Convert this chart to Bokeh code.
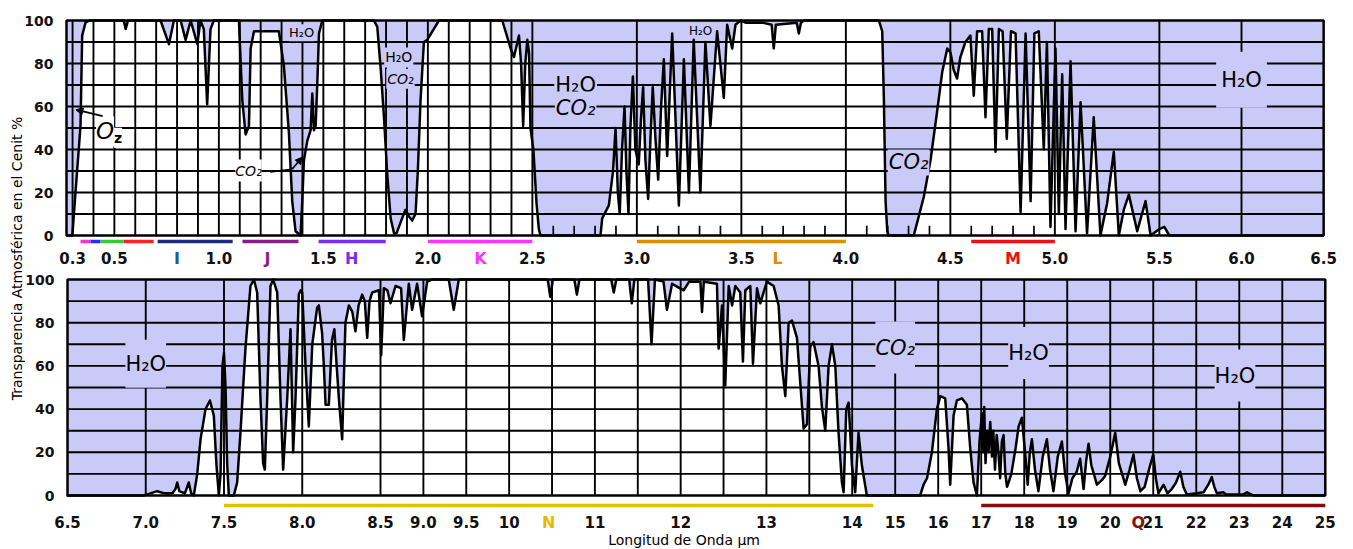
import numpy as np
from bokeh.plotting import figure
from bokeh.models import FixedTicker, Label, Arrow, NormalHead, Range1d
from bokeh.layouts import row, column
from bokeh.embed import file_html
from bokeh.resources import INLINE

# ---------------- data ----------------
top_wavelength = [
    0.271, 0.299, 0.314, 0.338, 0.346, 0.362, 0.380, 0.545, 0.554, 0.565,
    0.721, 0.761, 0.785, 0.817, 0.841, 0.865, 0.897, 0.912, 0.928, 0.944,
    0.960, 0.976, 1.096, 1.112, 1.128, 1.144, 1.152, 1.168, 1.200, 1.287,
    1.311, 1.335, 1.351, 1.367, 1.391, 1.399, 1.407, 1.423, 1.439, 1.447,
    1.455, 1.463, 1.471, 1.479, 1.495, 1.742, 1.758, 1.774, 1.790, 1.806,
    1.822, 1.838, 1.850, 1.869, 1.893, 1.909, 1.925, 1.941, 1.952, 1.965,
    1.981, 1.997, 2.053, 2.356, 2.396, 2.412, 2.424, 2.436, 2.446, 2.456,
    2.466, 2.476, 2.484, 2.491, 2.505, 2.520, 2.531, 2.539, 2.826, 2.834,
    2.866, 2.886, 2.898, 2.909, 2.918, 2.929, 2.941, 2.950, 2.960, 2.969,
    2.981, 2.993, 3.009, 3.020, 3.030, 3.041, 3.054, 3.065, 3.076, 3.089,
    3.102, 3.116, 3.129, 3.145, 3.169, 3.201, 3.225, 3.249, 3.272, 3.304,
    3.328, 3.352, 3.384, 3.416, 3.432, 3.456, 3.472, 3.496, 3.520, 3.600,
    3.645, 3.655, 3.665, 3.765, 3.775, 3.785, 3.800, 4.158, 4.174, 4.182,
    4.190, 4.198, 4.205, 4.325, 4.349, 4.373, 4.405, 4.437, 4.461, 4.485,
    4.501, 4.516, 4.532, 4.548, 4.572, 4.596, 4.612, 4.628, 4.652, 4.668,
    4.684, 4.700, 4.716, 4.732, 4.750, 4.770, 4.790, 4.812, 4.836, 4.860,
    4.884, 4.902, 4.923, 4.947, 4.962, 4.979, 5.003, 5.019, 5.035, 5.051,
    5.075, 5.099, 5.123, 5.154, 5.186, 5.218, 5.250, 5.282, 5.306, 5.330,
    5.354, 5.394, 5.434, 5.458, 5.500, 5.530, 5.561, 6.500,
]
top_transmission = [
    0, 0, 20, 51, 93, 99, 100, 100, 96, 100,
    100, 89, 100, 100, 91, 100, 89, 100, 96, 61,
    96, 100, 100, 63, 47, 51, 87, 95, 95, 95,
    79, 48, 16, 2, 0, 16, 35, 44, 49, 66,
    49, 51, 71, 94, 100, 100, 97, 78, 55, 28,
    8, 1, 1, 6, 12, 9, 7, 10, 30, 63,
    90, 91, 100, 100, 87, 83, 88, 93, 80, 51,
    80, 91, 85, 50, 40, 15, 3, 0, 0, 8,
    14, 30, 50, 20, 10, 40, 60, 30, 10, 50,
    74, 40, 33, 55, 69, 35, 17, 45, 69, 45,
    26, 60, 82, 37, 94, 14, 82, 20, 91, 20,
    90, 51, 95, 64, 98, 87, 98, 100, 99, 99,
    98, 87, 98, 99, 94, 99, 100, 100, 95, 63,
    16, 2, 0, 0, 9, 18, 35, 58, 76, 87,
    85, 77, 73, 83, 90, 93, 65, 95, 95, 55,
    96, 96, 39, 96, 95, 45, 95, 94, 11, 94,
    16, 94, 95, 40, 90, 4, 87, 10, 75, 3,
    81, 2, 62, 1, 55, 0, 15, 39, 0, 12,
    19, 2, 16, 0, 3, 4, 0, 0,
]

bottom_wavelength = [
    6.494, 6.988, 7.030, 7.073, 7.120, 7.170, 7.190, 7.201, 7.215, 7.250,
    7.275, 7.290, 7.307, 7.329, 7.350, 7.382, 7.410, 7.435, 7.452, 7.467,
    7.478, 7.490, 7.500, 7.510, 7.520, 7.531, 7.563, 7.584, 7.605, 7.637,
    7.669, 7.691, 7.712, 7.733, 7.750, 7.761, 7.776, 7.797, 7.814, 7.840,
    7.861, 7.878, 7.904, 7.925, 7.942, 7.957, 7.978, 7.990, 8.000, 8.021,
    8.042, 8.064, 8.095, 8.106, 8.127, 8.138, 8.149, 8.170, 8.190, 8.205,
    8.220, 8.234, 8.255, 8.276, 8.298, 8.320, 8.340, 8.360, 8.383, 8.400,
    8.415, 8.430, 8.447, 8.490, 8.508, 8.539, 8.580, 8.616, 8.675, 8.740,
    8.772, 8.830, 8.869, 8.927, 8.985, 9.044, 9.100, 9.296, 9.354, 9.413,
    10.45, 10.48, 10.51, 10.76, 10.79, 10.82, 11.19, 11.22, 11.25, 11.40,
    11.43, 11.46, 11.62, 11.66, 11.70, 11.80, 11.84, 11.90, 12.035, 12.10,
    12.23, 12.249, 12.27, 12.423, 12.443, 12.482, 12.52, 12.56, 12.60, 12.637,
    12.695, 12.726, 12.754, 12.812, 12.843, 12.89, 12.928, 12.967, 13.006, 13.084,
    13.142, 13.181, 13.22, 13.259, 13.298, 13.356, 13.395, 13.434, 13.473, 13.511,
    13.55, 13.608, 13.647, 13.686, 13.725, 13.764, 13.803, 13.841, 13.88, 13.90,
    13.931, 13.958, 13.997, 14.07, 14.147, 14.225, 14.341, 15.58, 15.66, 15.74,
    15.853, 15.969, 16.047, 16.163, 16.24, 16.279, 16.357, 16.434, 16.55, 16.667,
    16.744, 16.822, 16.90, 16.96, 17.016, 17.04, 17.07, 17.10, 17.14, 17.17,
    17.21, 17.25, 17.28, 17.32, 17.36, 17.40, 17.44, 17.48, 17.52, 17.56,
    17.60, 17.635, 17.70, 17.80, 17.87, 17.945, 18.02, 18.08, 18.13, 18.178,
    18.25, 18.33, 18.43, 18.527, 18.60, 18.68, 18.78, 18.876, 18.95, 19.03,
    19.12, 19.22, 19.30, 19.38, 19.44, 19.496, 19.56, 19.69, 19.80, 19.88,
    20.00, 20.116, 20.20, 20.35, 20.45, 20.54, 20.62, 20.70, 20.80, 20.90,
    21.00, 21.06, 21.12, 21.24, 21.33, 21.43, 21.53, 21.628, 21.70, 21.78,
    22.00, 22.17, 22.28, 22.36, 22.42, 22.48, 22.63, 22.70, 23.10, 23.18,
    23.33, 25.0,
]
bottom_transmission = [
    0, 0, 1, 2, 1, 1, 3, 6, 2, 1,
    6, 1, 0, 10, 26, 40, 44, 37, 14, 0,
    10, 60, 66, 50, 15, 0, 0, 6, 29, 68,
    97, 100, 94, 45, 15, 12, 45, 97, 100, 94,
    45, 12, 45, 77, 20, 45, 93, 95, 94, 60,
    32, 70, 87, 88, 75, 60, 42, 42, 72, 77,
    60, 45, 26, 80, 88, 85, 76, 88, 93, 90,
    73, 90, 94, 95, 65, 96, 95, 89, 97, 96,
    72, 98, 86, 98, 83, 99, 100, 100, 86, 100,
    100, 92, 100, 100, 93, 100, 100, 94, 100, 100,
    89, 100, 100, 70, 100, 99, 86, 98, 95, 99,
    99, 85, 99, 98, 68, 88, 51, 97, 88, 97,
    94, 62, 95, 97, 61, 96, 89, 94, 99, 97,
    88, 60, 46, 80, 81, 73, 52, 31, 33, 69,
    71, 60, 41, 30, 60, 70, 60, 29, 6, 1.5,
    40, 43, 14, 1.5, 29, 14, 0, 0, 5, 8,
    20, 40, 46, 45, 22, 5, 37, 44, 45, 42,
    22, 6, 0, 25, 38, 20, 41, 15, 30, 20,
    34, 18, 30, 12, 28, 20, 8, 25, 28, 10,
    4, 6, 10, 22, 32, 36, 20, 5, 20, 26,
    12, 2, 18, 26, 12, 2, 18, 25, 10, 1,
    8, 11, 17, 3, 16, 24, 14, 5, 7, 9,
    18, 29, 15, 5, 12, 19, 8, 2, 4, 12,
    19, 8, 1, 5, 1, 3, 6, 11, 4, 0.5,
    1, 1.5, 5, 8.5, 4, 1, 1.5, 0.5, 0.5, 1.5,
    0, 0,
]

top_ticks = [0.3, 0.5, 1.0, 1.5, 2.0, 2.5, 3.0, 3.5, 4.0, 4.5, 5.0, 5.5, 6.0, 6.5]
top_tick_labels = ["0.3", "0.5", "1.0", "1.5", "2.0", "2.5", "3.0", "3.5",
                   "4.0", "4.5", "5.0", "5.5", "6.0", "6.5"]
bottom_ticks = [6.5, 7.0, 7.5, 8.0, 8.5, 9.0, 9.5, 10, 11, 12, 13, 14, 15, 16,
                17, 18, 19, 20, 21, 22, 23, 24, 25]
bottom_tick_labels = ["6.5", "7.0", "7.5", "8.0", "8.5", "9.0", "9.5", "10", "11",
                      "12", "13", "14", "15", "16", "17", "18", "19", "20", "21",
                      "22", "23", "24", "25"]
y_ticks = [0, 20, 40, 60, 80, 100]

top_band_start = [0.338, 0.386, 0.434, 0.544, 0.707, 1.113, 1.477, 2.0, 3.0, 4.6]
top_band_end = [0.386, 0.434, 0.544, 0.688, 1.066, 1.381, 1.798, 2.5, 4.0, 5.0]
top_band_colors = ["#ff33cc", "#2a2aff", "#33cc33", "#ff2222", "#1c2a80",
                   "#8b1a8b", "#7a2cf0", "#ff33ff", "#e08c00", "#ee1111"]
top_letters = ["I", "J", "H", "K", "L", "M"]
top_letter_wl = [0.80, 1.233, 1.635, 2.252, 3.673, 4.80]
top_letter_colors = ["#1f5aa0", "#8b1a8b", "#7a2cf0", "#ff33ff", "#e08c00", "#ee1111"]

bottom_band_start = [7.5, 17.0]
bottom_band_end = [14.49, 25.0]
bottom_band_colors = ["#e8c000", "#8b0a0a"]
bottom_letters = ["N", "Q"]
bottom_letter_wl = [10.46, 20.65]
bottom_letter_colors = ["#e8b800", "#8b1010"]

# ---------------- scales (piecewise-linear wavelength axes) ----------------
TOP_WL_KNOTS = [0.0, 5.5, 6.5]
TOP_AX_KNOTS = [0.0, 5.5, 6.286]
BOT_WL_KNOTS = [6.0, 8.5, 14.0, 25.0]
BOT_AX_KNOTS = [6.0, 8.5, 11.514, 14.537]


def top_u(wl):
    return np.round(np.interp(np.asarray(wl, float), TOP_WL_KNOTS, TOP_AX_KNOTS), 6)


def bot_u(wl):
    return np.round(np.interp(np.asarray(wl, float), BOT_WL_KNOTS, BOT_AX_KNOTS), 6)


BLUE = "#cacaf8"
FONT = "DejaVu Sans"
STRIP_W = 25
FIG_W = 1328


def style_axes(p, ticks_u, labels, standoff, y_loc):
    p.xaxis.ticker = FixedTicker(ticks=[float(t) for t in ticks_u])
    p.xaxis.major_label_overrides = {float(t): l for t, l in zip(ticks_u, labels)}
    p.xaxis.fixed_location = 0
    p.yaxis.ticker = FixedTicker(ticks=y_ticks)
    p.yaxis.fixed_location = y_loc
    for ax in (p.xaxis, p.yaxis):
        ax.axis_line_color = None
        ax.major_tick_line_color = None
        ax.minor_tick_line_color = None
        ax.major_label_text_font = FONT
        ax.major_label_text_font_size = "15px"
        ax.major_label_text_font_style = "bold"
        ax.major_label_text_color = "#111111"
    p.yaxis.major_label_text_font_size = "14px"
    p.xaxis.major_label_standoff = standoff
    p.yaxis.major_label_standoff = 7


def panel(height, top_px, x0, k_x, k_y, border_l, border_r):
    # frame covers the whole canvas; 100 % sits top_px below the canvas top
    y_end = 100 + top_px / k_y
    xr = Range1d(x0, x0 + FIG_W / k_x)
    yr = Range1d(y_end - height / k_y, y_end)
    p = figure(width=FIG_W, height=height, x_range=xr, y_range=yr,
               output_backend="svg", toolbar_location=None,
               min_border_left=0, min_border_right=0,
               min_border_top=0, min_border_bottom=0)
    p.outline_line_color = None
    p.xgrid.visible = False
    p.ygrid.visible = False
    p.background_fill_color = "white"
    p.border_fill_color = "white"
    p.quad(left=[border_l], right=[border_r], bottom=[0], top=[100],
           fill_color=BLUE, line_color=None)
    return p


def finish(p, u, tr, vlines, border_l, border_r):
    p.varea(x=u, y1=np.zeros(len(u)), y2=tr, fill_color="white")
    hl = np.arange(10, 100, 10)
    p.segment(x0=[border_l] * len(hl), y0=hl, x1=[border_r] * len(hl), y1=hl,
              line_color="black", line_width=1.9)
    p.segment(x0=vlines, y0=[0] * len(vlines), x1=vlines, y1=[100] * len(vlines),
              line_color="black", line_width=1.9)
    p.line(u, tr, line_color="black", line_width=2.5, line_join="round")
    p.quad(left=[border_l], right=[border_r], bottom=[0], top=[100],
           fill_color=None, line_color="black", line_width=2.5)


def tag(p, x, y, text, size, style="normal", bg=None, pad=(1, 3)):
    kw = dict(x=x, y=y, text=text, text_align="center", text_baseline="middle",
              text_font=FONT, text_font_size=size, text_font_style=style,
              text_color="black")
    if bg is not None:
        kw.update(background_fill_color=bg, padding=pad)
    p.add_layout(Label(**kw))


# ---------------- top panel (canvas x 25..1353, y 0..268) ----------------
t_bl, t_br = float(top_u(0.271)), float(top_u(6.5))
t_x0 = t_bl - (66 - STRIP_W) / 209.0
top = panel(268, 20, t_x0, 209.0, 2.15, t_bl, t_br)
style_axes(top, top_u(top_ticks), top_tick_labels, 10, t_bl)

t_vl = list(top_u(np.round(np.arange(0.3, 2.51, 0.1), 2))) + list(top_u([3.0, 3.5, 4.0, 4.5, 5.0, 5.5, 6.0]))
finish(top, top_u(top_wavelength), top_transmission, t_vl, t_bl, t_br)
small = [w for w in np.round(np.arange(2.6, 4.95, 0.1), 2) if abs(w * 2 - round(w * 2)) > 1e-6]
top.segment(x0=top_u(small), y0=[0] * len(small), x1=top_u(small), y1=[4.5] * len(small),
            line_color="black", line_width=1.7)
top.segment(x0=top_u(top_band_start), y0=[-2.8] * 10, x1=top_u(top_band_end), y1=[-2.8] * 10,
            line_color=top_band_colors, line_width=3.5)
for l, w, c in zip(top_letters, top_letter_wl, top_letter_colors):
    top.add_layout(Label(x=float(top_u(w)), y=-10.7, text=l, text_align="center",
                         text_baseline="middle", text_font=FONT, text_font_size="16px",
                         text_font_style="bold", text_color=c))

tag(top, float(top_u(0.4555)), 48.4, "O", "23px", "italic", "white", (0, 2))
tag(top, float(top_u(0.5177)), 45.5, "z", "14px", "bold", "white", (0, 2))
top.add_layout(Arrow(end=NormalHead(size=7, fill_color="black"), x_start=float(top_u(0.444)),
                     y_start=55.5, x_end=float(top_u(0.316)), y_end=58.5, line_width=1.8))
tag(top, float(top_u(1.142)), 30.2, "CO₂", "14px", "italic", "white", (0, 3))
top.segment(x0=[float(top_u(1.245))], y0=[29.6], x1=[float(top_u(1.35))], y1=[30.8],
            line_color="black", line_width=1.8)
top.add_layout(Arrow(end=NormalHead(size=7, fill_color="black"), x_start=float(top_u(1.35)),
                     y_start=30.8, x_end=float(top_u(1.40)), y_end=36.5, line_width=1.8))
tag(top, float(top_u(1.396)), 94.3, "H₂O", "13px", "normal", BLUE, (0, 1))
tag(top, float(top_u(1.861)), 82.8, "H₂O", "14px", "normal", BLUE, (1, 2))
tag(top, float(top_u(1.869)), 72.9, "CO₂", "14px", "italic", BLUE, (1, 2))
tag(top, float(top_u(2.707)), 69.8, "H₂O", "21px", "normal", BLUE, (1, 4))
tag(top, float(top_u(2.707)), 59.5, "CO₂", "21px", "italic", BLUE, (1, 4))
tag(top, float(top_u(3.305)), 95.3, "H₂O", "12px", "normal")
tag(top, float(top_u(4.30)), 34.0, "CO₂", "21px", "italic", BLUE, (1, 1))
tag(top, float(top_u(6.0)), 72.5, "H₂O", "21px", "normal", BLUE, (5, 16))

# ---------------- bottom panel (canvas y 268..548) ----------------
b_bl, b_br = float(bot_u(6.5)), float(bot_u(25.0))
b_x0 = b_bl - (67 - STRIP_W) / 156.5
bot = panel(280, 11, b_x0, 156.5, 2.16, b_bl, b_br)
style_axes(bot, bot_u(bottom_ticks), bottom_tick_labels, 14, b_bl)

b_vl = list(bot_u(np.round(np.arange(7.0, 14.01, 0.5), 2))) + list(bot_u(np.arange(15, 25)))
finish(bot, bot_u(bottom_wavelength), bottom_transmission, b_vl, b_bl, b_br)
bot.segment(x0=bot_u(bottom_band_start), y0=[-4.6] * 2, x1=bot_u(bottom_band_end), y1=[-4.6] * 2,
            line_color=bottom_band_colors, line_width=3.5)
for l, w, c in zip(bottom_letters, bottom_letter_wl, bottom_letter_colors):
    bot.add_layout(Label(x=float(bot_u(w)), y=-12.5, text=l, text_align="center",
                         text_baseline="middle", text_font=FONT, text_font_size="16px",
                         text_font_style="bold", text_color=c))
bot.add_layout(Label(x=float(bot_u(12.04)), y=-20.6, text="Longitud de Onda µm",
                     text_align="center", text_baseline="middle", text_font=FONT,
                     text_font_size="14px", text_color="black"))

tag(bot, float(bot_u(7.0)), 61.0, "H₂O", "21px", "normal", BLUE, (0, 12))
tag(bot, float(bot_u(15.0)), 68.5, "CO₂", "21px", "italic", BLUE, (0, 14))
tag(bot, float(bot_u(18.1)), 66.0, "H₂O", "21px", "normal", BLUE, (0, 14))
tag(bot, float(bot_u(22.9)), 55.5, "H₂O", "21px", "normal", BLUE, (0, 14))

# ---------------- y title strip ----------------
strip = figure(width=STRIP_W, height=548, x_range=Range1d(0, STRIP_W), y_range=Range1d(0, 548),
               output_backend="svg", toolbar_location=None, x_axis_type=None, y_axis_type=None,
               min_border=0)
strip.outline_line_color = None
strip.xgrid.visible = False
strip.ygrid.visible = False
strip.add_layout(Label(x=16.5, y=290, text="Transparencia Atmosférica en el Cenit %",
                       angle=np.pi / 2, text_align="center", text_baseline="middle",
                       text_font=FONT, text_font_size="14px", text_color="black"))

layout = row(strip, column(top, bot))
open("out.html", "w").write(file_html(layout, INLINE))
